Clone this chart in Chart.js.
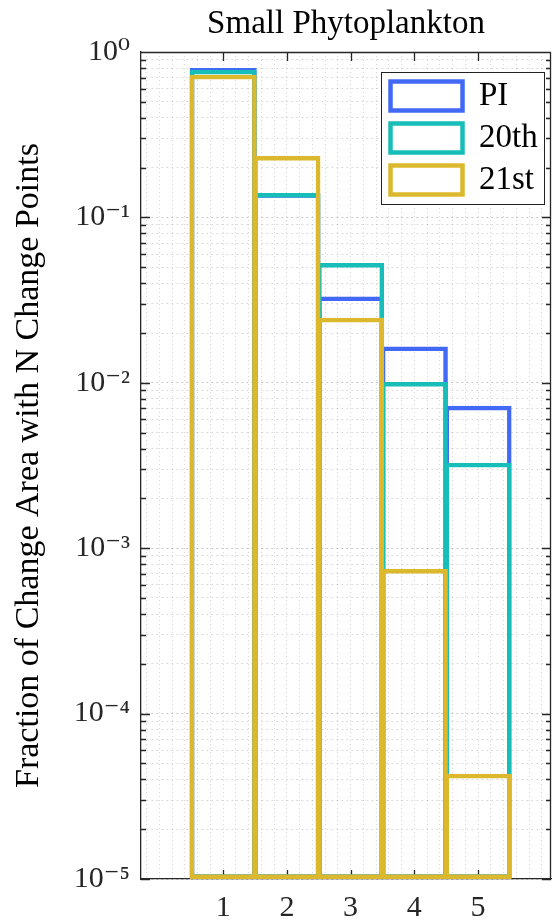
<!DOCTYPE html>
<html><head><meta charset="utf-8">
<script src="https://cdn.jsdelivr.net/npm/chart.js@4/dist/chart.umd.min.js"></script>
<style>html,body{margin:0;padding:0;background:#fff;} canvas{display:block;}</style>
</head><body>
<canvas id="c" width="552" height="924"></canvas>
<script>
// ---- data ----
const categories = [1, 2, 3, 4, 5];
const seriesNames = ['PI', '20th', '21st'];
const piValues  = [0.80, 0.140, 0.0333, 0.0166, 0.00727];
const c20Values = [0.78, 0.1405, 0.053, 0.0101, 0.00329];
const c21Values = [0.728, 0.235, 0.0247, 0.000748, 0.0000433];
const xTickValues = [1, 2, 3, 4, 5];
const yTickExponents = [0, -1, -2, -3, -4, -5];
const yTickLabels = ['10⁰', '10⁻¹', '10⁻²', '10⁻³', '10⁻⁴', '10⁻⁵'];
const titleText = 'Small Phytoplankton';
const yTitleText = 'Fraction of Change Area with N Change Points';

// ---- style ----
const colors = ['#4169F5', '#17BDB8', '#DCB92C'];
const FONT = "'Liberation Serif','DejaVu Serif',serif";
const AXIS = '#262626';
const X_MIN = -0.29, X_MAX = 6.145;

Chart.defaults.font.family = FONT;

function isDecade(v) {
  const l = Math.log10(v);
  return Math.abs(l - Math.round(l)) < 1e-6;
}
function yLabelFor(v) {
  const e = Math.round(Math.log10(v));
  const i = yTickExponents.indexOf(e);
  return i >= 0 ? yTickLabels[i] : '';
}
function yGridTicks() {
  const out = [];
  const lo = Math.min(...yTickExponents), hi = Math.max(...yTickExponents);
  for (let e = lo; e < hi; e++) {
    for (let k = 1; k <= 9; k++) out.push({ value: k * Math.pow(10, e) });
  }
  out.push({ value: Math.pow(10, hi) });
  return out;
}
function xMinorTicks() {
  const out = [];
  for (let k = Math.ceil(X_MIN / 0.2); k * 0.2 <= X_MAX; k++) out.push({ value: +(k * 0.2).toFixed(6) });
  return out;
}

const seriesValues = [piValues, c20Values, c21Values];
const datasets = seriesNames.map((name, i) => ({
  label: name,
  data: categories.map((c, j) => ({ x: c, y: seriesValues[i][j] })),
  borderColor: colors[i],
  backgroundColor: 'rgba(0,0,0,0)',
  borderWidth: 4.5,
  borderSkipped: false,
  inflateAmount: 0,
  grouped: false,
  categoryPercentage: 1,
  barPercentage: 1.0525,
  order: seriesNames.length - i
}));

const framePlugin = {
  id: 'frameAndLegend',
  afterLayout(chart) {
    const lg = chart.legend, ca = chart.chartArea;
    if (!lg) return;
    const fl = ca.right - 170, ft = ca.top + 20;
    lg.left = fl + 0.5; lg.top = ft - 1.5;
    lg.right = lg.left + 200; lg.bottom = lg.top + 160;
  },
  beforeDatasetsDraw(chart) {
    const ctx = chart.ctx, ca = chart.chartArea, ys = chart.scales.y, xs = chart.scales.x;
    ctx.save();
    ctx.strokeStyle = AXIS; ctx.lineWidth = 1.3;
    ctx.beginPath();
    ctx.moveTo(ca.left, ca.top + 0.5); ctx.lineTo(ca.right, ca.top + 0.5);
    ctx.moveTo(ca.right - 0.5, ca.top); ctx.lineTo(ca.right - 0.5, ca.bottom);
    ys.ticks.forEach(t => {
      const y = Math.round(ys.getPixelForValue(t.value)) + 0.5;
      const len = isDecade(t.value) ? 9 : 5;
      ctx.moveTo(ca.left, y); ctx.lineTo(ca.left + len, y);
      ctx.moveTo(ca.right, y); ctx.lineTo(ca.right - len, y);
    });
    xs.ticks.forEach(t => {
      const x = Math.round(xs.getPixelForValue(t.value)) + 0.5;
      ctx.moveTo(x, ca.bottom); ctx.lineTo(x, ca.bottom - 9);
      ctx.moveTo(x, ca.top); ctx.lineTo(x, ca.top + 9);
    });
    ctx.stroke();
    // legend frame
    const fl = ca.right - 170, ft = ca.top + 20, fw = 164, fh = 133;
    ctx.fillStyle = '#fff';
    ctx.fillRect(fl, ft, fw, fh);
    ctx.lineWidth = 1;
    ctx.strokeStyle = '#222';
    ctx.strokeRect(fl + 0.5, ft + 0.5, fw - 1, fh - 1);
    ctx.restore();
    if (chart.legend) chart.legend.draw();
  }
};

new Chart(document.getElementById('c'), {
  type: 'bar',
  data: { datasets },
  plugins: [framePlugin],
  options: {
    responsive: false,
    animation: false,
    devicePixelRatio: 1,
    layout: { padding: { left: 0, right: 1, top: 0, bottom: 0 } },
    plugins: {
      tooltip: { enabled: false },
      title: {
        display: true, text: titleText, fullSize: false, color: '#000',
        font: { size: 33, weight: 'normal', family: FONT },
        padding: { top: 5, bottom: 7.4 }
      },
      legend: {
        display: true,
        position: 'chartArea',
        align: 'start',
        labels: {
          boxWidth: 72, boxHeight: 29, padding: 9, color: '#000',
          font: { size: 33, family: FONT },
          sort: (a, b) => a.datasetIndex - b.datasetIndex
        }
      }
    },
    scales: {
      x: {
        type: 'linear', position: 'bottom', min: X_MIN, max: X_MAX, bounds: 'data',
        offset: false,
        afterBuildTicks: s => { s.ticks = xTickValues.map(v => ({ value: v })); },
        afterFit: s => { s.height = 45; },
        ticks: { autoSkip: false, maxRotation: 0, padding: 11, color: AXIS,
                 font: { size: 30, family: FONT }, callback: v => String(v) },
        grid: { display: false, drawTicks: false, offset: false },
        border: { display: true, color: AXIS, width: 1.3 }
      },
      xMinor: {
        type: 'linear', position: 'top', min: X_MIN, max: X_MAX, bounds: 'data',
        offset: false,
        afterBuildTicks: s => { s.ticks = xMinorTicks(); },
        afterFit: s => { s.height = 0; },
        ticks: { display: false },
        grid: { display: true, drawTicks: false, offset: false, color: 'rgba(0,0,0,0.16)', lineWidth: 1 },
        border: { display: false, dash: [1, 3] }
      },
      y: {
        type: 'logarithmic', position: 'left', min: 1e-5, max: 1,
        afterBuildTicks: s => { s.ticks = yGridTicks(); },
        afterFit: s => { s.width = 141; },
        ticks: { autoSkip: false, padding: 11, color: AXIS,
                 font: { size: 30, family: FONT },
                 callback: v => isDecade(v) ? yLabelFor(v) : '' },
        grid: { display: true, drawTicks: false, lineWidth: 1,
                color: c => (c.tick && isDecade(c.tick.value)) ? 'rgba(0,0,0,0.22)' : 'rgba(0,0,0,0.14)' },
        border: { display: true, color: AXIS, width: 1.3, dash: [2, 3] },
        title: { display: true, text: yTitleText, color: '#000',
                 font: { size: 34, family: FONT }, padding: { top: 9, bottom: 0 } }
      }
    }
  }
});
</script>
</body></html>
